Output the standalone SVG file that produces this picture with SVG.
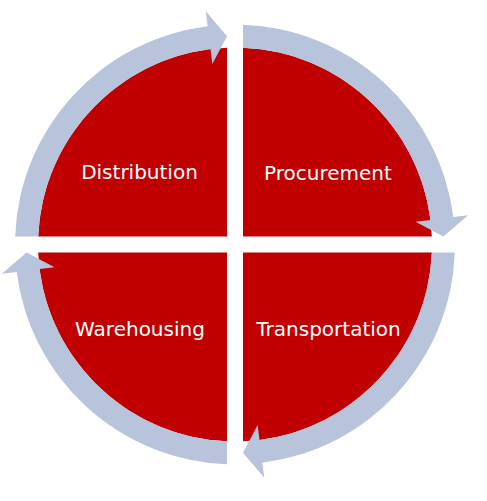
<svg xmlns="http://www.w3.org/2000/svg" width="487" height="501" viewBox="0 0 487 501">
<defs>
<style>
.q{fill:#C00000}
.a{fill:#B7C4DC}
.t{fill:#FFFFFF;font-family:"DejaVu Sans",Verdana,sans-serif;font-size:20px;text-anchor:middle}
</style>
<path id="quad" d="M243,236.5 V47.66 A197,197 0 0 1 431.84,236.5 Z"/>
<path id="arr" d="M243,24.65 A220,220 0 0 1 453.29,217.12 L468.17,215.25 L443.35,236.5 L415.58,221.85 L430.47,219.98 A197,197 0 0 0 243,47.66 Z"/>
</defs>
<rect width="487" height="501" fill="#FFFFFF"/>
<g id="procurement">
<use href="#quad" class="q"/>
<text class="t" x="328" y="180">Procurement</text>
</g>
<g id="transportation">
<use href="#quad" class="q" transform="rotate(90 235 244.5)"/>
<text class="t" x="328.5" y="336">Transportation</text>
</g>
<g id="warehousing">
<use href="#quad" class="q" transform="rotate(180 235 244.5)"/>
<text class="t" x="140" y="336">Warehousing</text>
</g>
<g id="distribution">
<use href="#quad" class="q" transform="rotate(270 235 244.5)"/>
<text class="t" x="139.5" y="179">Distribution</text>
</g>
<g id="connectors">
<use href="#arr" class="a"/>
<use href="#arr" class="a" transform="rotate(90 235 244.5)"/>
<use href="#arr" class="a" transform="rotate(180 235 244.5)"/>
<use href="#arr" class="a" transform="rotate(270 235 244.5)"/>
</g>
</svg>
